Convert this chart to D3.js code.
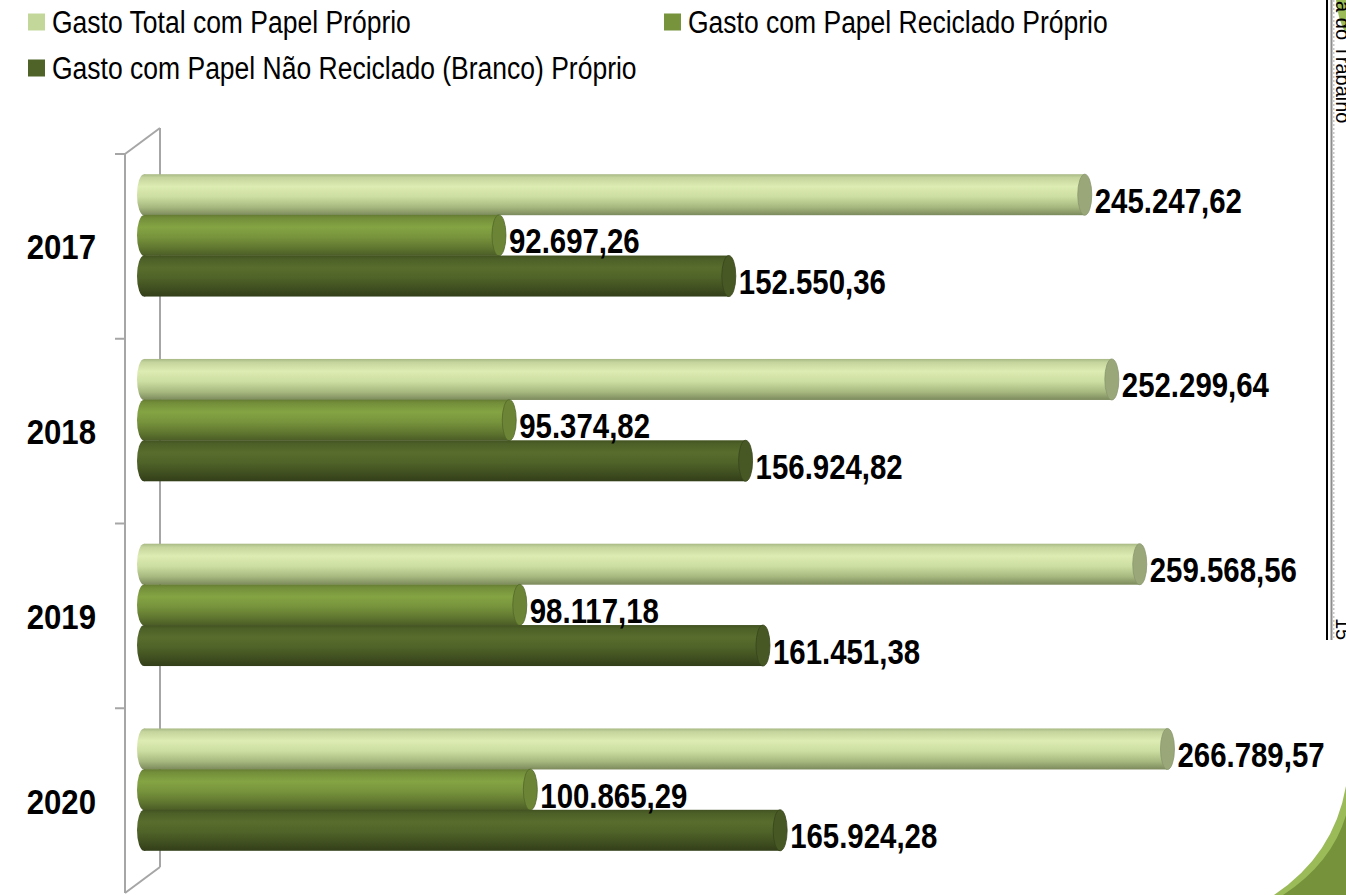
<!DOCTYPE html>
<html>
<head>
<meta charset="utf-8">
<script src="https://cdn.jsdelivr.net/npm/d3@7"></script>
<style>
  body { margin: 0; background: #fff; }
  svg { display: block; }
  .narrow { font-family: "Liberation Sans", Arial, sans-serif; }
</style>
</head>
<body>
<div id="vis"></div>
<script>
// chart data
const years = ["2017", "2018", "2019", "2020"];
const seriesNames = [
  "Gasto Total com Papel Próprio",
  "Gasto com Papel Reciclado Próprio",
  "Gasto com Papel Não Reciclado (Branco) Próprio",
];
const totalValues = [245247.62, 252299.64, 259568.56, 266789.57];
const recycledValues = [92697.26, 95374.82, 98117.18, 100865.29];
const whiteValues = [152550.36, 156924.82, 161451.38, 165924.28];
const seriesColors = ["#c4d79b", "#77933c", "#4f6228"];

const width = 1346, height = 895;

const svg = d3.select("#vis").append("svg")
  .attr("width", width)
  .attr("height", height);

// brazilian number format
const br = d3.formatLocale({ decimal: ",", thousands: ".", grouping: [3], currency: ["R$", ""] });
const fmt = br.format(",.2f");

// scales
const xScale = d3.scaleLinear().domain([0, 270000]).range([150, 150 + 270000 * 0.00384]);
const yFront = d3.scaleBand().domain(years).range([154, 893]);
const ySeries = d3.scaleBand().domain(d3.range(3)).range([-61, 61]);
const depth = { x: 35, y: -26 };

// no narrow font installed, so squeeze the text horizontally
const narrow = 0.84;

// gradients for the cylinders
const defs = svg.append("defs");
seriesColors.forEach((c, i) => {
  const base = d3.color(c);
  const g = defs.append("linearGradient")
    .attr("id", "grad" + i)
    .attr("x1", 0).attr("y1", 0).attr("x2", 0).attr("y2", 1);
  const stops = i == 0
    ? [[0, "#a9b985"], [0.08, "#c4d49c"], [0.3, "#dcecb2"], [0.55, "#cddea2"], [0.8, "#a8b980"], [1, "#7c8a5c"]]
    : [[0, base.darker(0.5)], [0.08, base.darker(0.1)], [0.3, base.brighter(0.3)], [0.55, base], [0.8, base.darker(0.6)], [1, base.darker(1.3)]];
  stops.forEach(s => g.append("stop").attr("offset", s[0]).attr("stop-color", s[1]));
});

// 3d wall of the category axis
const wall = svg.append("g").attr("stroke", "#a6a6a6").attr("stroke-width", 2).attr("fill", "none");
const y0 = yFront.range()[0], y1 = yFront.range()[1];
const xFront = 125;
wall.append("line").attr("x1", xFront + depth.x).attr("x2", xFront + depth.x)
  .attr("y1", y0 + depth.y).attr("y2", y1 + depth.y);
wall.append("line").attr("x1", xFront).attr("x2", xFront + depth.x)
  .attr("y1", y0).attr("y2", y0 + depth.y);
wall.append("line").attr("x1", xFront).attr("x2", xFront + depth.x)
  .attr("y1", y1).attr("y2", y1 + depth.y);
wall.append("line").attr("x1", xFront).attr("x2", xFront).attr("y1", y0).attr("y2", y1);
wall.selectAll(".tick")
  .data(years)
  .enter()
  .append("line")
  .attr("x1", xFront - 10).attr("x2", xFront)
  .attr("y1", d => yFront(d)).attr("y2", d => yFront(d));

// year labels
svg.selectAll(".year")
  .data(years)
  .enter()
  .append("text")
  .attr("class", "narrow")
  .attr("transform", d => `translate(96,${yFront(d) + yFront.bandwidth() / 2 + 13}) scale(0.89,1)`)
  .attr("text-anchor", "end")
  .attr("font-size", 35)
  .attr("font-weight", "bold")
  .text(d => d);

// flatten data
const plotData = [];
years.forEach((yr, i) => {
  [totalValues[i], recycledValues[i], whiteValues[i]].forEach((v, s) => {
    plotData.push({ year: yr, series: s, value: v });
  });
});

const rx = 7, ry = 20.5;
const cy = d => yFront(d.year) + yFront.bandwidth() / 2 - 11 + ySeries(d.series) + ySeries.bandwidth() / 2;

const bars = svg.selectAll(".bar")
  .data(plotData)
  .enter()
  .append("g")
  .attr("class", "bar");

// left rounded end
bars.append("ellipse")
  .attr("cx", xScale(0) - 6)
  .attr("cy", cy)
  .attr("rx", rx).attr("ry", ry)
  .attr("fill", d => `url(#grad${d.series})`);

// body
bars.append("rect")
  .attr("x", xScale(0) - 6)
  .attr("y", d => cy(d) - ry)
  .attr("width", d => xScale(d.value) - rx - xScale(0) + 6)
  .attr("height", ry * 2)
  .attr("fill", d => `url(#grad${d.series})`);

// end cap
bars.append("ellipse")
  .attr("cx", d => xScale(d.value) - rx)
  .attr("cy", cy)
  .attr("rx", rx).attr("ry", ry)
  .attr("fill", d => d3.color(seriesColors[d.series]).darker(d.series == 0 ? 0.7 : 0.3))
  .attr("stroke", d => d3.color(seriesColors[d.series]).darker(1))
  .attr("stroke-width", 0.8);

// value labels
svg.selectAll(".value")
  .data(plotData)
  .enter()
  .append("text")
  .attr("class", "narrow")
  .attr("transform", d => `translate(${xScale(d.value) + 3},${cy(d) + 18}) scale(${narrow},1)`)
  .attr("font-size", 35)
  .attr("font-weight", "bold")
  .text(d => fmt(d.value));

// legend
const legendPos = [[28, 22], [664, 22], [28, 68]];
const legend = svg.selectAll(".legend")
  .data(seriesNames)
  .enter()
  .append("g")
  .attr("class", "legend")
  .attr("transform", (d, i) => `translate(${legendPos[i][0]},${legendPos[i][1]})`);
legend.append("rect")
  .attr("x", 0).attr("y", -8.5)
  .attr("width", 17).attr("height", 17)
  .attr("fill", (d, i) => seriesColors[i]);
legend.append("text")
  .attr("class", "narrow")
  .attr("transform", "translate(24,11) scale(0.855,1)")
  .attr("font-size", 31)
  .text(d => d);

// page decoration at right edge
const deco = svg.append("g");
deco.append("path")
  .attr("d", "M1336,0 L1346,0 L1346,34 Q1338,20 1336,0 Z")
  .attr("fill", "#9bbb59");
deco.append("line")
  .attr("x1", 1327).attr("x2", 1327).attr("y1", 0).attr("y2", 640)
  .attr("stroke", "#000").attr("stroke-width", 2);
deco.append("line")
  .attr("x1", 1331.5).attr("x2", 1331.5).attr("y1", 0).attr("y2", 640)
  .attr("stroke", "#8c8c8c").attr("stroke-width", 2);
deco.append("line")
  .attr("x1", 1333.5).attr("x2", 1333.5).attr("y1", 0).attr("y2", 640)
  .attr("stroke", "#c8c8c8").attr("stroke-width", 2)
  .attr("stroke-dasharray", "2,2");
deco.append("text")
  .attr("transform", "translate(1336,-10) rotate(90)")
  .attr("font-family", "Liberation Sans, Arial, sans-serif")
  .attr("font-size", 20)
  .text("da do Trabalho");
deco.append("text")
  .attr("transform", "translate(1336,618) rotate(90)")
  .attr("font-family", "Liberation Sans, Arial, sans-serif")
  .attr("font-size", 20)
  .text("15");

// bottom right corner shape
deco.append("path")
  .attr("d", "M1274,895 Q1334,855 1346,786 L1346,895 Z")
  .attr("fill", "#9bbb59");
deco.append("path")
  .attr("d", "M1283,895 Q1340,858 1350,798 L1346,895 Z")
  .attr("fill", "#76933c");
</script>
</body>
</html>
